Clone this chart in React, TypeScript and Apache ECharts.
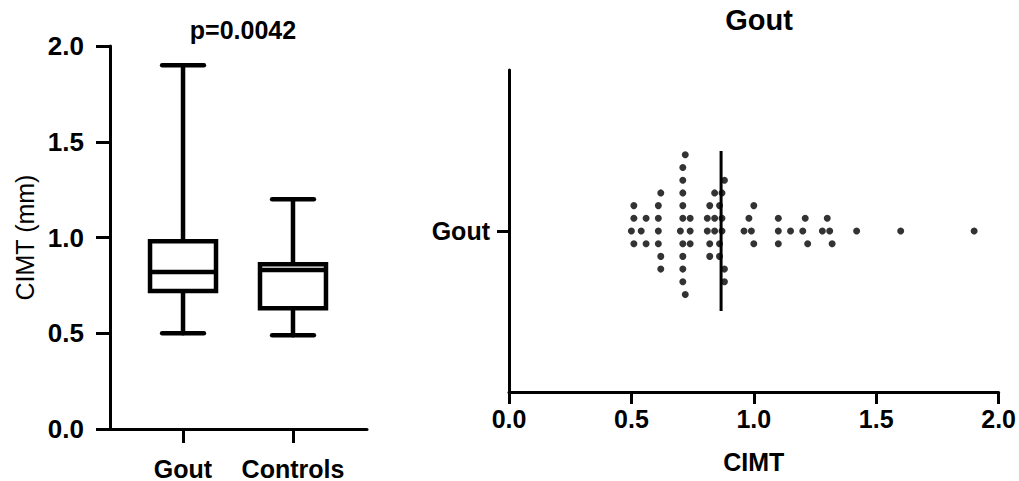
import React, { useEffect, useRef } from "react";
import * as echarts from "echarts";

// ---------- Data ----------
const groups = ["Gout", "Controls"];
const boxMin = [0.5, 0.49];
const boxQ1 = [0.72, 0.63];
const boxMedian = [0.82, 0.83];
const boxQ3 = [0.98, 0.86];
const boxMax = [1.9, 1.2];
const leftTicks = [0, 0.5, 1, 1.5, 2];
const rightTicks = [0, 0.5, 1, 1.5, 2];
const pValueText = "p=0.0042";
const rightTitle = "Gout";
const rightCategory = ["Gout"];

const goutCimt = [
  0.5, 0.51, 0.51, 0.51,
  0.54, 0.56, 0.56,
  0.61, 0.61, 0.61, 0.61, 0.62, 0.62, 0.62,
  0.7, 0.71, 0.71, 0.71, 0.71, 0.71, 0.71, 0.71, 0.71, 0.71, 0.72, 0.72,
  0.74, 0.74, 0.74,
  0.81, 0.81, 0.82, 0.82, 0.82, 0.84, 0.84, 0.84, 0.86, 0.86, 0.86, 0.87, 0.87, 0.87, 0.88, 0.88, 0.88,
  0.96, 0.98, 0.99, 1.0, 1.0,
  1.1, 1.1, 1.1, 1.15, 1.2, 1.21, 1.22, 1.28, 1.3, 1.31, 1.32, 1.42, 1.6, 1.9,
];

// ---------- Layout helpers ----------
const FONT = "'Liberation Sans', Arial, sans-serif";
const SWARM_GAP = 0.025; // min value separation for dots sharing a row

function swarm(values: number[], minGap: number): number[][] {
  const sorted = values.slice().sort((a, b) => a - b);
  const rows = new Map<number, number[]>();
  return sorted.map((v) => {
    for (let i = 0; ; i++) {
      const k = i === 0 ? 0 : i % 2 === 1 ? (i + 1) / 2 : -i / 2;
      const occ = rows.get(k) || [];
      if (occ.every((p) => Math.abs(v - p) >= minGap - 1e-9)) {
        occ.push(v);
        rows.set(k, occ);
        return [v, k];
      }
    }
  });
}

export default function App() {
  const ref = useRef<HTMLDivElement>(null);

  useEffect(() => {
    document.body.style.margin = "0";
    if (!ref.current) return;
    const chart = echarts.init(ref.current, undefined, { renderer: "svg" });

    const swarmData = swarm(goutCimt, SWARM_GAP);
    const mean = goutCimt.reduce((a, b) => a + b, 0) / goutCimt.length;
    const boxData = groups.map((_, i) => [i, boxMin[i], boxQ1[i], boxMedian[i], boxQ3[i], boxMax[i]]);

    const axisLineStyle = { color: "#000", width: 3 };
    const labelFont = { fontFamily: FONT, fontWeight: "bold", color: "#000" };

    const option: any = {
      animation: false,
      backgroundColor: "#fff",
      title: [
        {
          text: pValueText,
          left: 238,
          top: 12,
          textAlign: "center",
          textStyle: { ...labelFont, fontSize: 25 },
        },
        {
          text: rightTitle,
          left: 754,
          top: 0,
          textAlign: "center",
          textStyle: { ...labelFont, fontSize: 29 },
        },
      ],
      grid: [
        { left: 110, right: 652, top: 46, bottom: 50 },
        { left: 509, right: 20, top: 70, bottom: 89 },
      ],
      xAxis: [
        {
          gridIndex: 0,
          type: "value",
          min: -0.664,
          max: 1.673,
          splitLine: { show: false },
          axisLine: { show: true, onZero: false, lineStyle: axisLineStyle },
          axisTick: { show: true, customValues: [0, 1], length: 14, lineStyle: axisLineStyle },
          axisLabel: {
            customValues: [0, 1],
            formatter: (v: number) => groups[Math.round(v)] ?? "",
            ...labelFont,
            fontSize: 25,
            margin: 27,
          },
        },
        {
          gridIndex: 1,
          type: "value",
          min: rightTicks[0],
          max: rightTicks[rightTicks.length - 1],
          interval: 0.5,
          splitLine: { show: false },
          axisLine: { show: true, onZero: false, lineStyle: axisLineStyle },
          axisTick: { show: true, length: 12, lineStyle: axisLineStyle },
          axisLabel: {
            formatter: (v: number) => v.toFixed(1),
            ...labelFont,
            fontSize: 25,
            margin: 14,
          },
          name: "CIMT",
          nameLocation: "middle",
          nameGap: 57,
          nameTextStyle: { ...labelFont, fontSize: 25 },
        },
      ],
      yAxis: [
        {
          gridIndex: 0,
          type: "value",
          min: leftTicks[0],
          max: leftTicks[leftTicks.length - 1],
          interval: 0.5,
          splitLine: { show: false },
          axisLine: { show: true, onZero: false, lineStyle: axisLineStyle },
          axisTick: { show: true, length: 14, lineStyle: axisLineStyle },
          axisLabel: {
            formatter: (v: number) => v.toFixed(1),
            ...labelFont,
            fontSize: 26,
            margin: 26,
          },
          name: "CIMT (mm)",
          nameLocation: "middle",
          nameRotate: 90,
          nameGap: 73,
          nameTextStyle: { fontFamily: FONT, fontSize: 25, color: "#000" },
        },
        {
          gridIndex: 1,
          type: "category",
          data: rightCategory,
          boundaryGap: true,
          axisLine: { show: true, onZero: false, lineStyle: axisLineStyle },
          axisTick: { show: true, alignWithLabel: true, length: 12, lineStyle: axisLineStyle },
          axisLabel: {
            ...labelFont,
            fontSize: 25,
            margin: 19,
          },
        },
        {
          gridIndex: 1,
          type: "value",
          min: -12.68,
          max: 12.68,
          show: false,
        },
      ],
      series: [
        {
          type: "custom",
          xAxisIndex: 0,
          yAxisIndex: 0,
          data: boxData,
          renderItem: (params: any, api: any) => {
            const x = api.value(0);
            const pMin = api.coord([x, api.value(1)]);
            const pQ1 = api.coord([x, api.value(2)]);
            const pMed = api.coord([x, api.value(3)]);
            const pQ3 = api.coord([x, api.value(4)]);
            const pMax = api.coord([x, api.value(5)]);
            const halfBox = api.size([0.6, 0])[0] / 2;
            const halfCap = api.size([0.38, 0])[0] / 2;
            const cx = pMed[0];
            const style = { stroke: "#000", lineWidth: 4.5, fill: null, lineCap: "round" };
            return {
              type: "group",
              children: [
                { type: "line", shape: { x1: cx, y1: pQ3[1], x2: cx, y2: pMax[1] }, style },
                { type: "line", shape: { x1: cx, y1: pQ1[1], x2: cx, y2: pMin[1] }, style },
                { type: "line", shape: { x1: cx - halfCap, y1: pMax[1], x2: cx + halfCap, y2: pMax[1] }, style },
                { type: "line", shape: { x1: cx - halfCap, y1: pMin[1], x2: cx + halfCap, y2: pMin[1] }, style },
                {
                  type: "rect",
                  shape: { x: cx - halfBox, y: pQ3[1], width: halfBox * 2, height: pQ1[1] - pQ3[1] },
                  style: { stroke: "#000", lineWidth: 4.5, fill: "#fff" },
                },
                {
                  type: "line",
                  shape: { x1: cx - halfBox, y1: pMed[1], x2: cx + halfBox, y2: pMed[1] },
                  style: { stroke: "#000", lineWidth: 4.5 },
                },
              ],
            };
          },
        },
        {
          type: "scatter",
          xAxisIndex: 1,
          yAxisIndex: 2,
          data: swarmData,
          symbol: "circle",
          symbolSize: 7,
          itemStyle: { color: "#000" },
          z: 3,
        },
        {
          type: "line",
          xAxisIndex: 1,
          yAxisIndex: 2,
          data: [
            [mean, -6.3],
            [mean, 6.3],
          ],
          symbol: "none",
          lineStyle: { color: "#000", width: 3 },
          z: 4,
        },
      ],
    };

    chart.setOption(option);
    return () => chart.dispose();
  }, []);

  return <div ref={ref} style={{ width: 1019, height: 481 }} />;
}
